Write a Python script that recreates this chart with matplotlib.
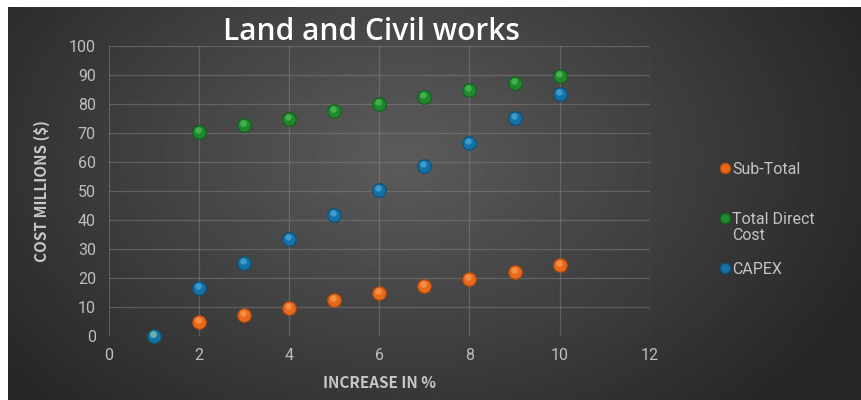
import numpy as np
import matplotlib
matplotlib.use("Agg")
import matplotlib.pyplot as plt
from matplotlib.lines import Line2D
from matplotlib import transforms

plt.rcParams['font.family'] = ['Noto Sans CJK SC', 'DejaVu Sans']

# data
increase = [1, 2, 3, 4, 5, 6, 7, 8, 9, 10]
sub_total = [0, 5.0, 7.4, 9.8, 12.3, 14.7, 17.1, 19.6, 22.0, 24.5]
total_direct = [0, 70.3, 72.6, 75.0, 77.6, 80.1, 82.4, 84.8, 87.3, 89.8]
capex = [0, 16.7, 25.1, 33.4, 41.8, 50.2, 58.5, 66.7, 75.1, 83.5]

series_names = ["Sub-Total", "Total Direct\nCost", "CAPEX"]
series_vals = [sub_total, total_direct, capex]
colors = ["#E8691C", "#1E8A2C", "#1472A6"]
edge_colors = ["#B04A0C", "#10601C", "#0C5078"]
hi_colors = ["#FFA860", "#5CC868", "#5CB4E6"]

xticks = [0, 2, 4, 6, 8, 10, 12]
yticks = [0, 10, 20, 30, 40, 50, 60, 70, 80, 90, 100]

fig = plt.figure(figsize=(8.62, 4.0), dpi=100)
fig.patch.set_facecolor("white")

# dark radial gradient background (leaves the thin white strip top/left)
bg = fig.add_axes([8 / 862, 0, 1 - 8 / 862, 1 - 7 / 400])
bg.set_axis_off()
yy, xx = np.mgrid[0:1:200j, 0:1:430j]
r = np.sqrt(((xx - 0.46) / 0.62) ** 2 + ((yy - 0.62) / 0.95) ** 2)
shade = np.clip(0.36 - 0.22 * r, 0.15, 0.36)
bg.imshow(shade, cmap="gray", vmin=0, vmax=1, aspect="auto", origin="lower",
          extent=[0, 1, 0, 1], interpolation="bilinear")

ax = fig.add_axes([108.5 / 862, 64 / 400, 541.5 / 862, 290 / 400])
ax.set_facecolor("none")
ax.set_xlim(0, 12)
ax.set_ylim(0, 100)
ax.set_xticks(xticks)
ax.set_yticks(yticks)
for s in ax.spines.values():
    s.set_visible(False)
ax.grid(True, color="#8a8a8a", alpha=0.45, linewidth=0.9)
ax.set_axisbelow(True)
ax.tick_params(length=0, colors="#BEBEBE", labelsize=11.5, pad=9)
for lab in ax.get_xticklabels() + ax.get_yticklabels():
    lab.set_family(["Roboto", "DejaVu Sans"])

hi_off = transforms.offset_copy(ax.transData, fig=fig, x=-1.0, y=2.0, units="dots")
for vals, c, ec, hc in zip(series_vals, colors, edge_colors, hi_colors):
    ax.scatter(increase, vals, s=95, color=c, edgecolors=ec, linewidths=0.8,
               zorder=3, clip_on=False)
    ax.scatter(increase, vals, s=22, color=hc, alpha=0.6, linewidths=0,
               zorder=4, clip_on=False, transform=hi_off)

ax.set_xlabel("INCREASE IN %", color="#C8C8C8", fontsize=11, fontweight="bold", labelpad=8)
ax.set_ylabel("COST MILLIONS ($)", color="#C8C8C8", fontsize=11, fontweight="bold", labelpad=14)

fig.text(371 / 862, 1 - 32 / 400, "Land and Civil works", color="white", fontsize=21.5,
         fontweight="semibold", ha="center", va="center",
         family=["Open Sans", "DejaVu Sans"])

# legend on the right
leg_y = [168, 218, 268]
for name, c, ec, y in zip(series_names, colors, edge_colors, leg_y):
    fig.add_artist(Line2D([725 / 862], [1 - y / 400], marker="o", markersize=7.5,
                          color=c, markeredgecolor=ec, linestyle="none"))
    fig.text(732 / 862, 1 - (y - 6) / 400, name, color="#C4C4C4", fontsize=11.5,
             ha="left", va="top", linespacing=1.05,
             family=["Roboto", "DejaVu Sans"])

fig.savefig("out.png", dpi=100)
